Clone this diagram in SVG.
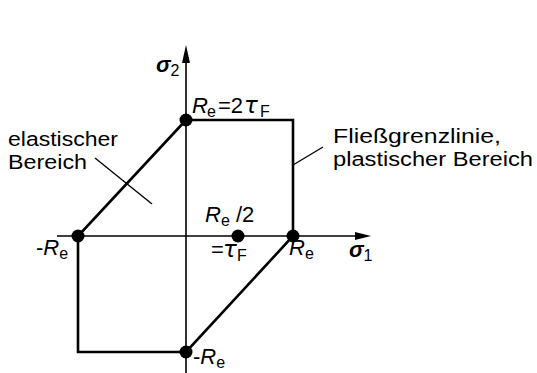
<svg xmlns="http://www.w3.org/2000/svg" width="537" height="373" viewBox="0 0 537 373">
<style>
text{font-family:"Liberation Sans",Arial,sans-serif;fill:#000}
.lbl{font-size:20px}
.m{font-size:22px}
.i{font-style:italic}
.s{font-size:16px}
.tau{font-family:"DejaVu Sans",sans-serif;font-style:oblique;font-size:23px}
.ax{stroke:#000;stroke-width:1.6;fill:none}
.edge{stroke:#000;stroke-width:2.6;fill:none;stroke-linecap:round}
.lead{stroke:#000;stroke-width:1.4;fill:none}
.dot{fill:#000}
</style>
<rect width="537" height="373" fill="#fff"/>
<g id="connectors">
<line class="ax" x1="57" y1="236" x2="360" y2="236"/>
<polygon points="371,236 355,232 355,240" fill="#000"/>
<line class="ax" x1="186" y1="373" x2="186" y2="58"/>
<polygon points="186,45 182,63 190,63" fill="#000"/>
<polyline class="edge" points="186,120 293,120 293,236 186,352 78,352 78,236 186,120"/>
<line class="lead" x1="95" y1="158" x2="152" y2="204"/>
<line class="lead" x1="293" y1="165" x2="323" y2="147"/>
</g>
<g id="n-top"><circle class="dot" cx="186" cy="120" r="6.5"/></g>
<g id="n-left"><circle class="dot" cx="78" cy="236" r="6.5"/></g>
<g id="n-right"><circle class="dot" cx="293" cy="236" r="6.5"/></g>
<g id="n-bottom"><circle class="dot" cx="186" cy="352" r="6.5"/></g>
<g id="n-mid"><circle class="dot" cx="238" cy="236" r="6.5"/></g>
<g id="label-sigma2"><text class="m i" x="156" y="72" font-weight="bold">σ<tspan class="s" font-style="normal" font-weight="normal" dy="4">2</tspan></text></g>
<g id="label-top"><text class="m" y="113"><tspan class="i" x="192">R</tspan><tspan class="s" x="207" dy="4">e</tspan><tspan x="218" dy="-4">=2</tspan><tspan class="tau" x="244">τ</tspan><tspan class="s" x="260" dy="4">F</tspan></text></g>
<g id="label-elastic"><text class="lbl" x="8" y="146" textLength="110" lengthAdjust="spacingAndGlyphs">elastischer</text><text class="lbl" x="8" y="168.5" textLength="79" lengthAdjust="spacingAndGlyphs">Bereich</text></g>
<g id="label-plastic"><text class="lbl" x="333" y="143" textLength="168" lengthAdjust="spacingAndGlyphs">Fließgrenzlinie,</text><text class="lbl" x="333" y="166" textLength="200" lengthAdjust="spacingAndGlyphs">plastischer Bereich</text></g>
<g id="label-left"><text class="m" x="36" y="255">-<tspan class="i">R</tspan><tspan class="s" dy="4">e</tspan></text></g>
<g id="label-right"><text class="m" x="289" y="255"><tspan class="i">R</tspan><tspan class="s" dy="4">e</tspan></text></g>
<g id="label-sigma1"><text class="m i" x="349" y="257" font-weight="bold">σ<tspan class="s" font-style="normal" font-weight="normal" dy="4">1</tspan></text></g>
<g id="label-mid"><text class="m" x="205" y="222"><tspan class="i">R</tspan><tspan class="s" dy="4">e</tspan><tspan dy="-4"> /2</tspan></text><text class="m" y="257"><tspan x="211">=</tspan><tspan class="tau" x="223">τ</tspan><tspan class="s" x="237" dy="4">F</tspan></text></g>
<g id="label-bottom"><text class="m" x="193" y="364">-<tspan class="i">R</tspan><tspan class="s" dy="4">e</tspan></text></g>
</svg>
